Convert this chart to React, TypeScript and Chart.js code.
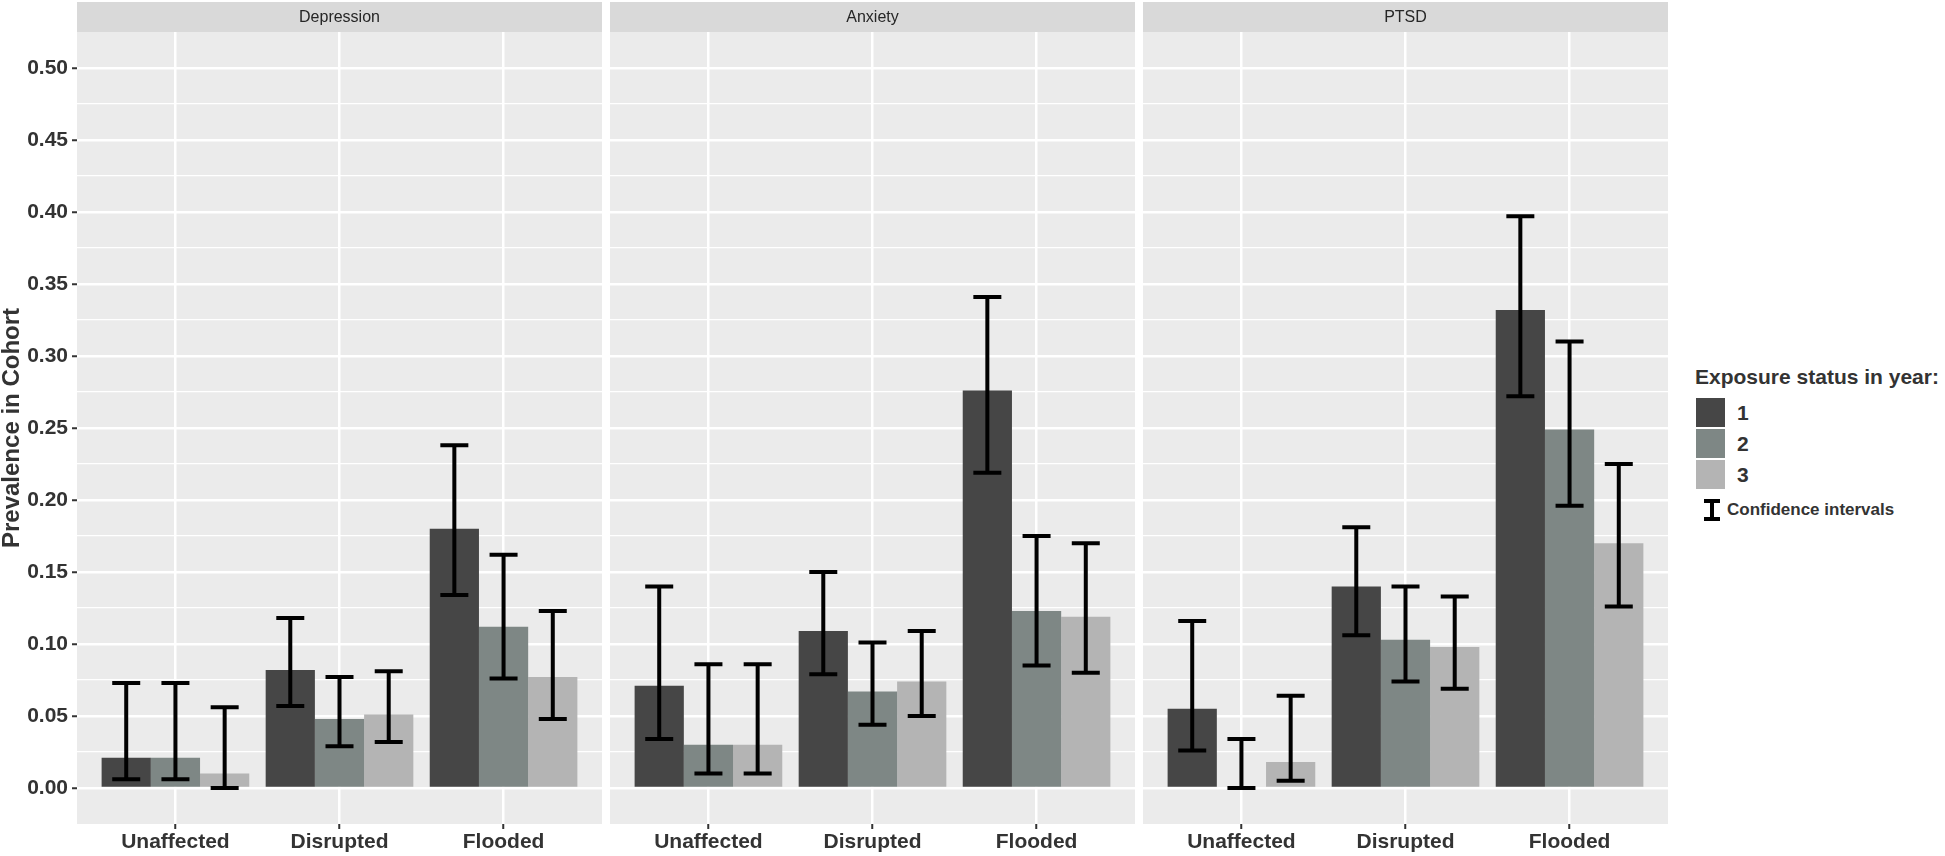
import React, { useEffect, useRef } from 'react';
import { Chart, registerables } from 'chart.js';

Chart.register(...registerables);

// ---------- data ----------
const categories = ['Unaffected', 'Disrupted', 'Flooded'];
const panelTitles = ['Depression', 'Anxiety', 'PTSD'];
const yearLabels = ['1', '2', '3'];
const yMajorTicks = [0, 0.05, 0.1, 0.15, 0.2, 0.25, 0.3, 0.35, 0.4, 0.45, 0.5];
const yMinorTicks = [0.025, 0.075, 0.125, 0.175, 0.225, 0.275, 0.325, 0.375, 0.425, 0.475];
const yTickLabels = ['0.00', '0.05', '0.10', '0.15', '0.20', '0.25', '0.30', '0.35', '0.40', '0.45', '0.50'];

// rows = exposure year 1,2,3 ; columns = Unaffected, Disrupted, Flooded
const depressionValues = [
  [0.021, 0.082, 0.180],
  [0.021, 0.048, 0.112],
  [0.010, 0.051, 0.077],
];
const depressionLower = [
  [0.006, 0.057, 0.134],
  [0.006, 0.029, 0.076],
  [0.000, 0.032, 0.048],
];
const depressionUpper = [
  [0.073, 0.118, 0.238],
  [0.073, 0.077, 0.162],
  [0.056, 0.081, 0.123],
];

const anxietyValues = [
  [0.071, 0.109, 0.276],
  [0.030, 0.067, 0.123],
  [0.030, 0.074, 0.119],
];
const anxietyLower = [
  [0.034, 0.079, 0.219],
  [0.010, 0.044, 0.085],
  [0.010, 0.050, 0.080],
];
const anxietyUpper = [
  [0.140, 0.150, 0.341],
  [0.086, 0.101, 0.175],
  [0.086, 0.109, 0.170],
];

const ptsdValues = [
  [0.055, 0.140, 0.332],
  [0.000, 0.103, 0.249],
  [0.018, 0.098, 0.170],
];
const ptsdLower = [
  [0.026, 0.106, 0.272],
  [0.000, 0.074, 0.196],
  [0.005, 0.069, 0.126],
];
const ptsdUpper = [
  [0.116, 0.181, 0.397],
  [0.034, 0.140, 0.310],
  [0.064, 0.133, 0.225],
];

const panelValues = [depressionValues, anxietyValues, ptsdValues];
const panelLower = [depressionLower, anxietyLower, ptsdLower];
const panelUpper = [depressionUpper, anxietyUpper, ptsdUpper];

// ---------- style ----------
const FONT = '"Liberation Sans", Arial, Helvetica, sans-serif';
const barColors = ['#464646', '#7e8785', '#b4b4b4'];
const TEXT = '#333333';
const W = 1945;
const H = 856;
const panelLefts = [0, 610, 1143];
const panelWidths = [602, 525, 525];
const axisWidths = [77, 0, 0];

const panelPlugin = {
  id: 'ggPanel',
  beforeDraw(chart: any, _args: any, opts: any) {
    const { ctx, chartArea } = chart;
    ctx.save();
    ctx.fillStyle = '#d9d9d9';
    ctx.fillRect(chartArea.left, 2, chartArea.right - chartArea.left, chartArea.top - 2);
    ctx.fillStyle = '#ebebeb';
    ctx.fillRect(chartArea.left, chartArea.top, chartArea.right - chartArea.left, chartArea.bottom - chartArea.top);
    ctx.fillStyle = '#262626';
    ctx.font = `16px ${FONT}`;
    ctx.textAlign = 'center';
    ctx.textBaseline = 'middle';
    ctx.fillText(opts.title, (chartArea.left + chartArea.right) / 2, (2 + chartArea.top) / 2 + 1);
    ctx.restore();
  },
};

const errorBarPlugin = {
  id: 'errBars',
  afterDatasetsDraw(chart: any) {
    const { ctx } = chart;
    const yS = chart.scales.y;
    ctx.save();
    ctx.strokeStyle = '#000000';
    ctx.lineWidth = 4;
    ctx.lineCap = 'butt';
    chart.data.datasets.forEach((ds: any, j: number) => {
      const meta = chart.getDatasetMeta(j);
      meta.data.forEach((el: any, i: number) => {
        const x = el.x;
        const lo = yS.getPixelForValue(ds.ciLow[i]);
        const hi = yS.getPixelForValue(ds.ciHigh[i]);
        const hw = 14;
        ctx.beginPath();
        ctx.moveTo(x, lo);
        ctx.lineTo(x, hi);
        ctx.moveTo(x - hw, lo);
        ctx.lineTo(x + hw, lo);
        ctx.moveTo(x - hw, hi);
        ctx.lineTo(x + hw, hi);
        ctx.stroke();
      });
    });
    ctx.restore();
  },
};

function Panel({ index }: { index: number }) {
  const ref = useRef<HTMLCanvasElement | null>(null);
  useEffect(() => {
    if (!ref.current) return;
    const vals = panelValues[index];
    const lows = panelLower[index];
    const highs = panelUpper[index];
    const first = index === 0;
    const allTicks = [...yMajorTicks, ...yMinorTicks].sort((a, b) => a - b);
    const isMajor = (v: number) => yMajorTicks.some((m) => Math.abs(m - v) < 1e-9);
    const chart = new Chart(ref.current, {
      type: 'bar',
      data: {
        datasets: yearLabels.map((yl, j) => ({
          label: yl,
          data: categories.map((_, i) => ({ x: i, y: vals[j][i] })),
          backgroundColor: barColors[j],
          borderWidth: 0,
          categoryPercentage: 0.9,
          barPercentage: 1.0,
          ciLow: lows[j],
          ciHigh: highs[j],
        })) as any,
      },
      options: {
        animation: false,
        responsive: false,
        devicePixelRatio: 1,
        layout: { padding: { top: 32, left: 0, right: 0, bottom: 0 } },
        plugins: {
          legend: { display: false },
          tooltip: { enabled: false },
          title: { display: false },
          ggPanel: { title: panelTitles[index] },
        } as any,
        scales: {
          x: {
            type: 'linear',
            min: -0.6,
            max: 2.6,
            offset: false,
            afterBuildTicks: (s: any) => {
              s.ticks = categories.map((_, i) => ({ value: i }));
            },
            afterFit: (s: any) => {
              s.height = 32;
            },
            ticks: {
              autoSkip: false,
              maxRotation: 0,
              padding: 1,
              color: TEXT,
              font: { family: FONT, size: 21, weight: 'bold' },
              callback: (v: any) => categories[Math.round(Number(v))] ?? '',
            },
            grid: {
              offset: false,
              color: '#ffffff',
              lineWidth: 2.5,
              drawTicks: true,
              tickLength: 5,
              tickColor: TEXT,
              tickWidth: 2,
            },
            border: { display: false },
          },
          y: {
            type: 'linear',
            min: -0.025,
            max: 0.525,
            afterBuildTicks: (s: any) => {
              s.ticks = allTicks.map((v) => ({ value: v }));
            },
            afterFit: (s: any) => {
              s.width = axisWidths[index];
            },
            ticks: {
              display: first,
              padding: 4,
              color: TEXT,
              font: { family: FONT, size: 21, weight: 'bold' },
              callback: (v: any) => {
                const k = yMajorTicks.findIndex((m) => Math.abs(m - Number(v)) < 1e-9);
                return k >= 0 ? yTickLabels[k] : '';
              },
            },
            grid: {
              color: '#ffffff',
              lineWidth: (c: any) => (c.tick && isMajor(c.tick.value) ? 2.5 : 1.2),
              drawTicks: first,
              tickLength: 5,
              tickWidth: 2,
              tickColor: (c: any) => (c.tick && isMajor(c.tick.value) ? TEXT : 'rgba(0,0,0,0)'),
            },
            border: { display: false },
            title: {
              display: first,
              text: 'Prevalence in Cohort',
              color: TEXT,
              padding: 0,
              font: { family: FONT, size: 24, weight: 'bold', lineHeight: 1.0 },
            },
          },
        },
      } as any,
      plugins: [panelPlugin, errorBarPlugin],
    });
    return () => chart.destroy();
  }, [index]);
  return (
    <canvas
      ref={ref}
      width={panelWidths[index]}
      height={H}
      style={{
        position: 'absolute',
        left: panelLefts[index],
        top: 0,
        width: panelWidths[index],
        height: H,
      }}
    />
  );
}

function Legend() {
  const keyStyle = (c: string, top: number): React.CSSProperties => ({
    position: 'absolute',
    left: 1696,
    top,
    width: 29,
    height: 29,
    background: c,
  });
  const labStyle = (top: number): React.CSSProperties => ({
    position: 'absolute',
    left: 1737,
    top,
    height: 29,
    lineHeight: '29px',
    fontFamily: FONT,
    fontWeight: 'bold',
    fontSize: 21,
    color: TEXT,
  });
  const keyTops = [398, 429, 460];
  return (
    <>
      <div
        style={{
          position: 'absolute',
          left: 1695,
          top: 363,
          lineHeight: '28px',
          fontFamily: FONT,
          fontWeight: 'bold',
          fontSize: 21,
          color: TEXT,
          whiteSpace: 'nowrap',
        }}
      >
        Exposure status in year:
      </div>
      {yearLabels.map((yl, j) => (
        <React.Fragment key={yl}>
          <div style={keyStyle(barColors[j], keyTops[j])} />
          <div style={labStyle(keyTops[j])}>{yl}</div>
        </React.Fragment>
      ))}
      <div style={{ position: 'absolute', left: 1704, top: 499, width: 16, height: 22 }}>
        <div style={{ position: 'absolute', left: 0, top: 0, width: 16, height: 4, background: '#000' }} />
        <div style={{ position: 'absolute', left: 6, top: 0, width: 4, height: 22, background: '#000' }} />
        <div style={{ position: 'absolute', left: 0, top: 18, width: 16, height: 4, background: '#000' }} />
      </div>
      <div
        style={{
          position: 'absolute',
          left: 1727,
          top: 498,
          lineHeight: '24px',
          fontFamily: FONT,
          fontWeight: 'bold',
          fontSize: 17,
          color: TEXT,
          whiteSpace: 'nowrap',
        }}
      >
        Confidence intervals
      </div>
    </>
  );
}

export default function App() {
  return (
    <div
      style={{
        position: 'absolute',
        left: 0,
        top: 0,
        width: W,
        height: H,
        background: '#ffffff',
        overflow: 'hidden',
      }}
    >
      {[0, 1, 2].map((i) => (
        <Panel key={i} index={i} />
      ))}
      <Legend />
    </div>
  );
}
